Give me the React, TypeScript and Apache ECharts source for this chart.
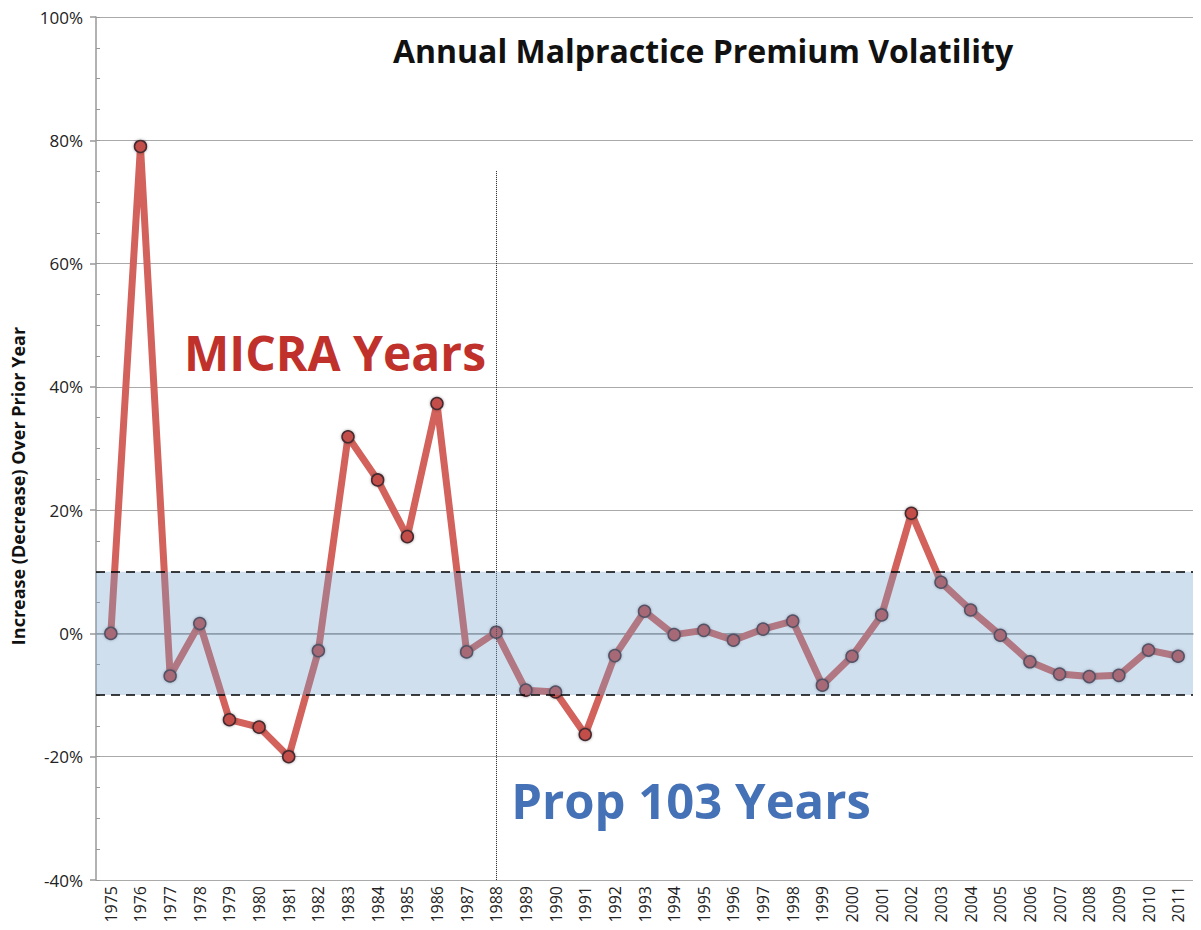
import React, { useEffect, useRef } from "react";
import * as echarts from "echarts";

const years = [
  "1975","1976","1977","1978","1979","1980","1981","1982","1983","1984","1985","1986","1987",
  "1988","1989","1990","1991","1992","1993","1994","1995","1996","1997","1998","1999","2000",
  "2001","2002","2003","2004","2005","2006","2007","2008","2009","2010","2011",
];
const changes = [
  0, 79, -6.9, 1.6, -14, -15.2, -20, -2.8, 31.9, 24.9, 15.7, 37.3, -3,
  0.2, -9.2, -9.5, -16.4, -3.6, 3.6, -0.2, 0.5, -1.1, 0.7, 2, -8.4, -3.7,
  3, 19.5, 8.3, 3.8, -0.3, -4.6, -6.6, -7.0, -6.8, -2.7, -3.7,
];
const bandLow = -10;
const bandHigh = 10;
const dividerYear = "1988";
const dividerTop = 75;
const yMin = -40;
const yMax = 100;

const FONT = "'Open Sans', 'Noto Sans', sans-serif";

export default function App() {
  const ref = useRef<HTMLDivElement>(null);
  useEffect(() => {
    if (!ref.current) return;
    const chart = echarts.init(ref.current, null, { renderer: "svg" });
    chart.setOption({
      animation: false,
      textStyle: { fontFamily: FONT },
      grid: { left: 96, right: 8, top: 17, bottom: 50, containLabel: false },
      xAxis: {
        type: "category",
        data: years,
        boundaryGap: true,
        axisLine: { lineStyle: { color: "#999", width: 1.5 } },
        axisTick: { show: false },
        axisLabel: { rotate: 90, fontSize: 16, color: "#222", margin: 6, fontFamily: FONT, interval: 0 },
      },
      yAxis: [
        {
          type: "value",
          min: yMin,
          max: yMax,
          interval: 20,
          axisLine: { show: true, lineStyle: { color: "#999", width: 1.5 } },
          axisTick: { show: true, length: 6, lineStyle: { color: "#999", width: 1.5 } },
          axisLabel: { formatter: "{value}%", fontSize: 17, color: "#222", margin: 13, fontFamily: FONT },
          splitLine: { show: true, lineStyle: { color: "#aaa", width: 1 } },
        },
        {
          type: "value",
          position: "left",
          min: yMin,
          max: yMax,
          interval: 5,
          axisLine: { show: false },
          axisTick: { show: true, inside: true, length: 4, lineStyle: { color: "#999", width: 1 } },
          axisLabel: { show: false },
          splitLine: { show: false },
        },
      ],
      series: [
        {
          type: "line",
          data: changes,
          z: 2,
          symbol: "circle",
          symbolSize: 12,
          lineStyle: { color: "#d2625b", width: 7 },
          itemStyle: {
            color: "#c24d4a",
            borderColor: "#45292f",
            borderWidth: 1.5,
            shadowBlur: 3,
            shadowColor: "rgba(0,0,0,0.35)",
          },
          markLine: {
            silent: true,
            symbol: "none",
            label: { show: false },
            lineStyle: { color: "#222", width: 1, type: [1, 1] },
            data: [[{ coord: [dividerYear, dividerTop] }, { coord: [dividerYear, yMin] }]],
          },
        },
        {
          type: "line",
          data: [],
          z: 5,
          markArea: {
            silent: true,
            z: 10,
            itemStyle: { color: "rgba(114,161,205,0.34)" },
            data: [[{ yAxis: bandLow }, { yAxis: bandHigh }]],
          },
          markLine: {
            silent: true,
            z: 11,
            symbol: "none",
            label: { show: false },
            lineStyle: { color: "#000", width: 1.6, type: [9, 6] },
            data: [{ yAxis: bandLow }, { yAxis: bandHigh }],
          },
        },
      ],
      graphic: [
        {
          type: "text",
          x: 703,
          y: 50,
          style: {
            text: "Annual Malpractice Premium Volatility",
            font: `bold 32px ${FONT}`,
            fill: "#111",
            align: "center",
            verticalAlign: "middle",
          },
        },
        {
          type: "text",
          x: 335,
          y: 352,
          style: {
            text: "MICRA Years",
            font: `bold 48px ${FONT}`,
            fill: "#c0312b",
            align: "center",
            verticalAlign: "middle",
          },
        },
        {
          type: "text",
          x: 691,
          y: 800,
          style: {
            text: "Prop 103 Years",
            font: `bold 49px ${FONT}`,
            fill: "#4571b6",
            align: "center",
            verticalAlign: "middle",
          },
        },
        {
          type: "text",
          x: 18,
          y: 486,
          rotation: Math.PI / 2,
          style: {
            text: "Increase (Decrease) Over Prior Year",
            font: `bold 18px ${FONT}`,
            fill: "#111",
            align: "center",
            verticalAlign: "middle",
          },
        },
      ],
    });
    return () => chart.dispose();
  }, []);
  return <div ref={ref} style={{ position: "absolute", left: 0, top: 0, width: 1201, height: 930 }} />;
}
